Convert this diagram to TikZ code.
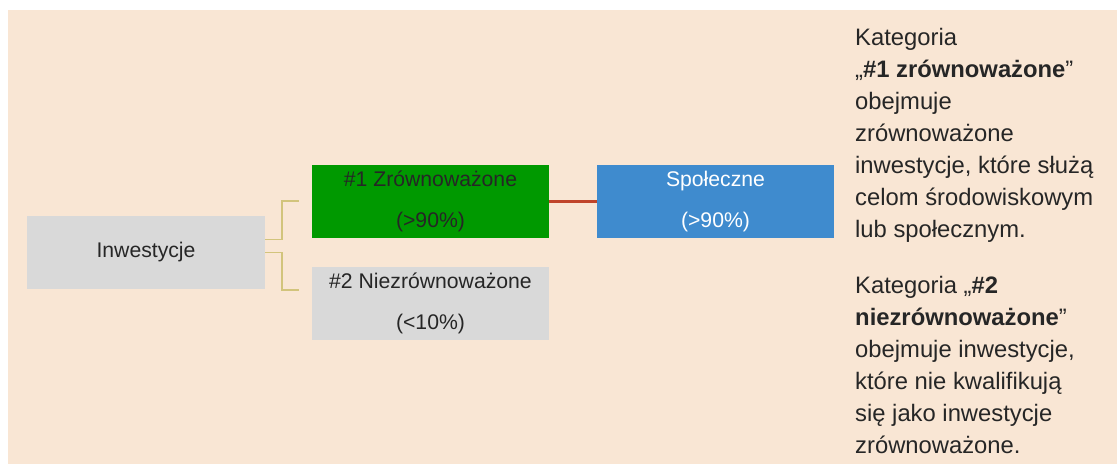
\documentclass[tikz,border=0pt]{standalone}
\usepackage{fontspec}
\setmainfont{Liberation Sans}
\usetikzlibrary{calc}
\definecolor{bgpeach}{HTML}{F9E6D4}
\definecolor{boxgrey}{HTML}{D9D9D9}
\definecolor{boxgreen}{HTML}{009900}
\definecolor{boxblue}{HTML}{3F8BCE}
\definecolor{linkred}{HTML}{C0442A}
\definecolor{branchgold}{HTML}{D2C47C}
\definecolor{txtgrey}{HTML}{262626}
\tikzset{
  catbox/.style={minimum width=237.5pt, minimum height=73pt, inner sep=0pt, align=center,
    text=txtgrey, font=\fontsize{21.2}{39}\selectfont},
  branch/.style={draw=branchgold, line width=1.5pt},
  link/.style={draw=linkred, line width=3pt},
  note/.style={inner sep=0pt, align=left, anchor=north west, text=txtgrey,
    font=\fontsize{23.8}{32}\selectfont}
}
\begin{document}
\begin{tikzpicture}[x=1pt,y=-1pt]
	\useasboundingbox (0,0) rectangle (1117,464);
	\fill[bgpeach] (8,10) rectangle (1117,464);
	\node[catbox, fill=boxgrey, minimum width=238pt] (inv) at (146,252.5) {Inwestycje};
	\node[catbox, fill=boxgreen] (zr) at (430.5,201.5) {\#1 Zrównoważone\\[2pt](>90\%)};
	\node[catbox, fill=boxgrey] (nz) at (430.5,303.5) {\#2 Niezrównoważone\\[2pt](<10\%)};
	\node[catbox, fill=boxblue, text=white] (sp) at (715.5,201.5) {Społeczne\\[2pt](>90\%)};
	\coordinate (t1) at (299,201);
	\coordinate (t2) at (299,290);
	\draw[branch] ($(inv.east)+(0,-13)$) -- ++(17,0) |- (t1);
	\draw[branch] (inv.east) -- ++(17,0) |- (t2);
	\draw[link] (zr.east) -- (sp.west);
	\node[note] (n1) at (855,28) {Kategoria\\„\textbf{\#1 zrównoważone}”\\obejmuje\\zrównoważone\\inwestycje, które służą\\celom środowiskowym\\lub społecznym.};
	\node[note] (n2) at (855,276) {Kategoria „\textbf{\#2}\\\textbf{niezrównoważone}”\\obejmuje inwestycje,\\które nie kwalifikują\\się jako inwestycje\\zrównoważone.};
\end{tikzpicture}
\end{document}
